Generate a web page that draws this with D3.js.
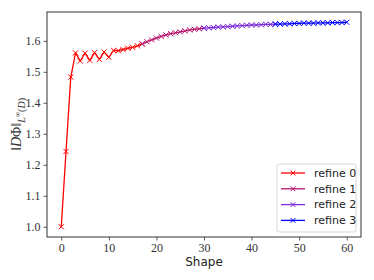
<!DOCTYPE html>
<html>
<head>
<meta charset="utf-8">
<script src="https://cdn.jsdelivr.net/npm/d3@7"></script>
<style>
  body { margin: 0; background: #fff; }
  svg { display: block; }
</style>
</head>
<body>
<script>
const width = 374;
const height = 280;
const marginLeft = 47;
const marginRight = 13;
const marginTop = 12;
const marginBottom = 43;

// shape index per refinement level
const shape0 = [0, 1, 2, 3, 4, 5, 6, 7, 8, 9, 10, 11, 12, 13, 14, 15, 16, 17];
const norm0 = [1.0, 1.243, 1.483, 1.561, 1.535, 1.560, 1.537, 1.562, 1.540, 1.564, 1.547, 1.569, 1.568, 1.572, 1.576, 1.579, 1.584, 1.590];
const shape1 = [17, 18, 19, 20, 21, 22, 23, 24, 25, 26, 27, 28, 29, 30];
const norm1 = [1.590, 1.597, 1.603, 1.609, 1.614, 1.619, 1.623, 1.626, 1.629, 1.632, 1.635, 1.637, 1.639, 1.641];
const shape2 = [30, 31, 32, 33, 34, 35, 36, 37, 38, 39, 40, 41, 42, 43, 44, 45];
const norm2 = [1.641, 1.642, 1.643, 1.644, 1.645, 1.646, 1.647, 1.648, 1.649, 1.650, 1.651, 1.651, 1.652, 1.653, 1.653, 1.654];
const shape3 = [45, 46, 47, 48, 49, 50, 51, 52, 53, 54, 55, 56, 57, 58, 59, 60];
const norm3 = [1.654, 1.654, 1.655, 1.655, 1.656, 1.656, 1.657, 1.657, 1.657, 1.658, 1.658, 1.658, 1.659, 1.659, 1.659, 1.660];

const labels = ["refine 0", "refine 1", "refine 2", "refine 3"];
const colors = ["#ff0000", "#b8156f", "#7c2bd8", "#0000ff"];
const xTicks = [0, 10, 20, 30, 40, 50, 60];
const yTicks = [1.0, 1.1, 1.2, 1.3, 1.4, 1.5, 1.6];

const series = [
  { x: shape0, y: norm0 },
  { x: shape1, y: norm1 },
  { x: shape2, y: norm2 },
  { x: shape3, y: norm3 }
];

const svg = d3.select("body")
  .append("svg")
  .attr("width", width)
  .attr("height", height)
  .attr("viewBox", [0, 0, width, height]);

const xScale = d3.scaleLinear([-3, 63], [marginLeft, width - marginRight]);
const yScale = d3.scaleLinear([0.967, 1.693], [height - marginBottom, marginTop]);

const tickFont = "'Liberation Serif', 'DejaVu Serif', serif";
const sansFont = "'DejaVu Sans', sans-serif";

const xAxis = d3.axisBottom(xScale).tickValues(xTicks).tickSize(3.5).tickPadding(3).tickFormat(d3.format("d"));
const yAxis = d3.axisLeft(yScale).tickValues(yTicks).tickSize(3.5).tickPadding(3).tickFormat(d3.format(".1f"));

function styleAxis(g) {
  g.select(".domain").remove();
  g.selectAll(".tick line").attr("stroke", "#333").attr("stroke-width", 0.8);
  g.selectAll(".tick text")
    .attr("fill", "#333")
    .style("font-family", tickFont)
    .style("font-size", "12px");
}

svg.append("g")
  .attr("transform", `translate(0,${height - marginBottom})`)
  .call(xAxis)
  .call(styleAxis);

svg.append("g")
  .attr("transform", `translate(${marginLeft},0)`)
  .call(yAxis)
  .call(styleAxis);

// frame
svg.append("rect")
  .attr("x", marginLeft)
  .attr("y", marginTop)
  .attr("width", width - marginLeft - marginRight)
  .attr("height", height - marginTop - marginBottom)
  .attr("fill", "none")
  .attr("stroke", "#333")
  .attr("stroke-width", 1);

const line = d3.line();

function crossPath(cx, cy, r) {
  return `M${cx - r},${cy - r}L${cx + r},${cy + r}M${cx - r},${cy + r}L${cx + r},${cy - r}`;
}

series.forEach((s, k) => {
  const pts = s.x.map((x, i) => [xScale(x), yScale(s.y[i])]);
  svg.append("path")
    .attr("fill", "none")
    .attr("stroke", colors[k])
    .attr("stroke-width", 1.3)
    .attr("stroke-linejoin", "round")
    .attr("d", line(pts));

  svg.append("path")
    .attr("fill", "none")
    .attr("stroke", colors[k])
    .attr("stroke-width", 1)
    .attr("d", pts.map(p => crossPath(p[0], p[1], 2.6)).join(""));
});

// axis labels
svg.append("text")
  .attr("x", (marginLeft + width - marginRight) / 2)
  .attr("y", 266)
  .attr("text-anchor", "middle")
  .attr("fill", "#222")
  .style("font-family", sansFont)
  .style("font-size", "12px")
  .text("Shape");

const ylab = svg.append("text")
  .attr("transform", `translate(21,${(marginTop + height - marginBottom) / 2}) rotate(-90)`)
  .attr("text-anchor", "middle")
  .attr("fill", "#333")
  .style("font-family", tickFont)
  .style("font-size", "14px");
ylab.append("tspan").text("\u2016");
ylab.append("tspan").attr("font-style", "italic").text("D");
ylab.append("tspan").text("\u03A6\u2016");
ylab.append("tspan").attr("dy", 3.5).style("font-size", "10px").attr("font-style", "italic").text("L");
ylab.append("tspan").attr("dy", -4.5).style("font-size", "7.5px").text("\u221E");
ylab.append("tspan").attr("dy", 4.5).style("font-size", "10px").text("(");
ylab.append("tspan").style("font-size", "10px").attr("font-style", "italic").text("D");
ylab.append("tspan").style("font-size", "10px").text(")");

// legend
const legend = svg.append("g").attr("transform", "translate(277,164)");
legend.append("rect")
  .attr("width", 79)
  .attr("height", 68)
  .attr("rx", 2.5)
  .attr("fill", "#fff")
  .attr("fill-opacity", 0.8)
  .attr("stroke", "#ccc")
  .attr("stroke-width", 0.8);

labels.forEach((lab, k) => {
  const yy = 9 + k * 15.8;
  legend.append("line")
    .attr("x1", 4).attr("x2", 28)
    .attr("y1", yy).attr("y2", yy)
    .attr("stroke", colors[k])
    .attr("stroke-width", 1.3);
  legend.append("path")
    .attr("fill", "none")
    .attr("stroke", colors[k])
    .attr("stroke-width", 1)
    .attr("d", crossPath(16, yy, 2.4));
  legend.append("text")
    .attr("x", 37)
    .attr("y", yy)
    .attr("dy", "0.35em")
    .attr("fill", "#222")
    .style("font-family", sansFont)
    .style("font-size", "11px")
    .text(lab);
});
</script>
</body>
</html>
